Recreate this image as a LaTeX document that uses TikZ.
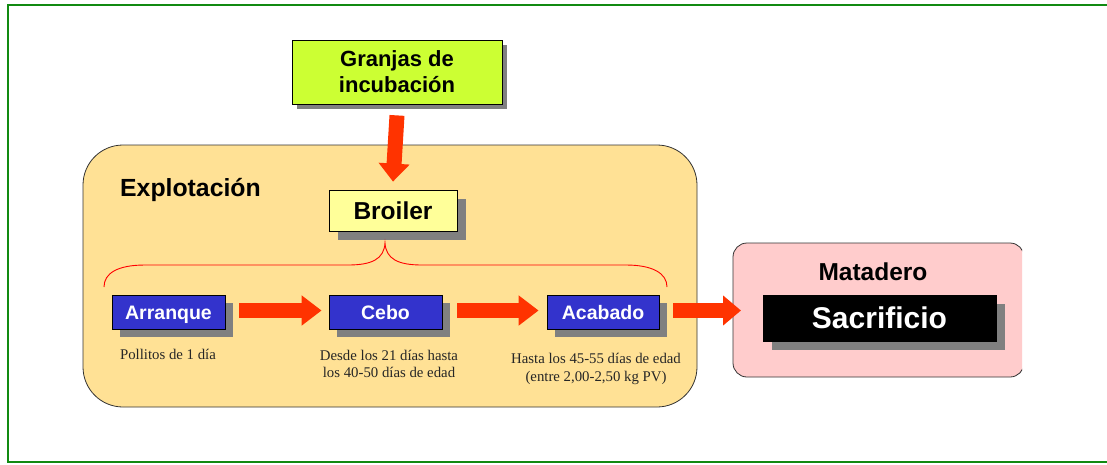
\documentclass[tikz,border=0pt]{standalone}
\usepackage{fontspec}
\setmainfont{Liberation Serif}
\newfontfamily\arialf{Liberation Sans}
\usetikzlibrary{shadows,arrows.meta}
\definecolor{framegreen}{HTML}{118A11}
\definecolor{arrowred}{HTML}{FF3300}
\definecolor{boxblue}{HTML}{3333CC}
\definecolor{shadowgray}{HTML}{808080}
\definecolor{explofill}{HTML}{FFE195}
\definecolor{matafill}{HTML}{FFCCCC}
\definecolor{limefill}{HTML}{CCFF33}
\definecolor{broilfill}{HTML}{FFFF99}
\tikzset{
  shadowbox/.style={draw=black, line width=0.8pt, inner sep=0pt, align=center,
    drop shadow={shadow xshift=#1, shadow yshift=-#1, fill=shadowgray, opacity=1}},
  shadowbox/.default=8pt,
  stagebox/.style={shadowbox, fill=boxblue, text=white, minimum width=113pt, minimum height=34pt,
    text height=14pt, text depth=0pt,
    font=\arialf\bfseries\fontsize{19.5}{22}\selectfont},
  bigarrow/.style={draw=arrowred, line width=15pt, -{Triangle[length=20pt,width=29pt]}},
  note/.style={inner sep=0pt, align=center, font=\fontsize{14.8}{17.5}\selectfont, text=black!85},
  region/.style={draw=black!80, line width=0.8pt},
}
\begin{document}
\begin{tikzpicture}[x=1pt,y=-1pt]
\useasboundingbox (0,0) rectangle (1107,464);
\clip (0,0) rectangle (1107,464);
\fill[white] (0,0) rectangle (1107,464);
% frame
\draw[framegreen, line width=2pt] (1112,5) -- (8,5) -- (8,462) -- (1112,462);
% regions
\draw[region, fill=explofill, rounded corners=40pt] (83,145) rectangle (697,407);
\begin{scope}
\clip (0,0) rectangle (1022,464);
\draw[region, fill=matafill, rounded corners=14pt] (733,243) rectangle (1024,377);
\end{scope}
\coordinate (matabox) at (733,310.5);
% nodes
\node[shadowbox=5pt, fill=limefill, minimum width=210pt, minimum height=64pt,
  font=\arialf\bfseries\fontsize{22}{26}\selectfont] (granjas) at (397,72) {Granjas de\\incubación};
\node[shadowbox=8.5pt, fill=broilfill, minimum width=128pt, minimum height=41pt,
  text height=17.6pt, text depth=0pt,
  font=\arialf\bfseries\fontsize{24.5}{28}\selectfont] (broiler) at (393,210.5) {Broiler};
\node[anchor=base west, inner sep=0pt, font=\arialf\bfseries\fontsize{24.8}{28}\selectfont] (explo) at (120,196) {Explotación};
\node[stagebox] (arranque) at (168.5,312) {Arranque};
\node[stagebox] (cebo) at (385.5,312) {Cebo};
\node[stagebox, minimum width=112pt] (acabado) at (603,312) {Acabado};
\node[anchor=base, inner sep=0pt, font=\arialf\bfseries\fontsize{24.5}{28}\selectfont] (matadero) at (873,280) {Matadero};
\node[shadowbox=9pt, fill=black, text=white, minimum width=233pt, minimum height=46pt,
  text height=21.5pt, text depth=0pt,
  font=\arialf\bfseries\fontsize{30}{34}\selectfont] (sacrificio) at (879.5,318) {Sacrificio};
% notes
\node[note, anchor=base] (n1) at (168,359) {Pollitos de 1 día};
\node[note] (n2) at (389,364) {Desde los 21 días hasta\\los 40-50 días de edad};
\node[note] (n3) at (596,369) {Hasta los 45-55 días de edad\\(entre 2,00-2,50 kg PV)};
% brace
\draw[red, line width=0.9pt] (104,287) .. controls (104,273) and (118,265) .. (145,265) -- (348,265)
  .. controls (372,265) and (384,259) .. (385,243)
  .. controls (386,259) and (398,265) .. (422,265) -- (626,265)
  .. controls (652,265) and (667,273) .. (667,287);
% arrows
\draw[bigarrow, -{Triangle[length=18pt,width=30pt]}] ([yshift=-11pt]granjas.south) -- ([yshift=8pt]broiler.north);
\draw[bigarrow] ([xshift=14pt,yshift=1.5pt]arranque.east) -- ([xshift=-7pt,yshift=1.5pt]cebo.west);
\draw[bigarrow] ([xshift=15pt,yshift=1.5pt]cebo.east) -- ([xshift=-8pt,yshift=1.5pt]acabado.west);
\draw[bigarrow, -{Triangle[length=18pt,width=29pt]}] ([xshift=14pt,yshift=1.5pt]acabado.east) -- ([xshift=8pt]matabox);
\end{tikzpicture}
\end{document}
